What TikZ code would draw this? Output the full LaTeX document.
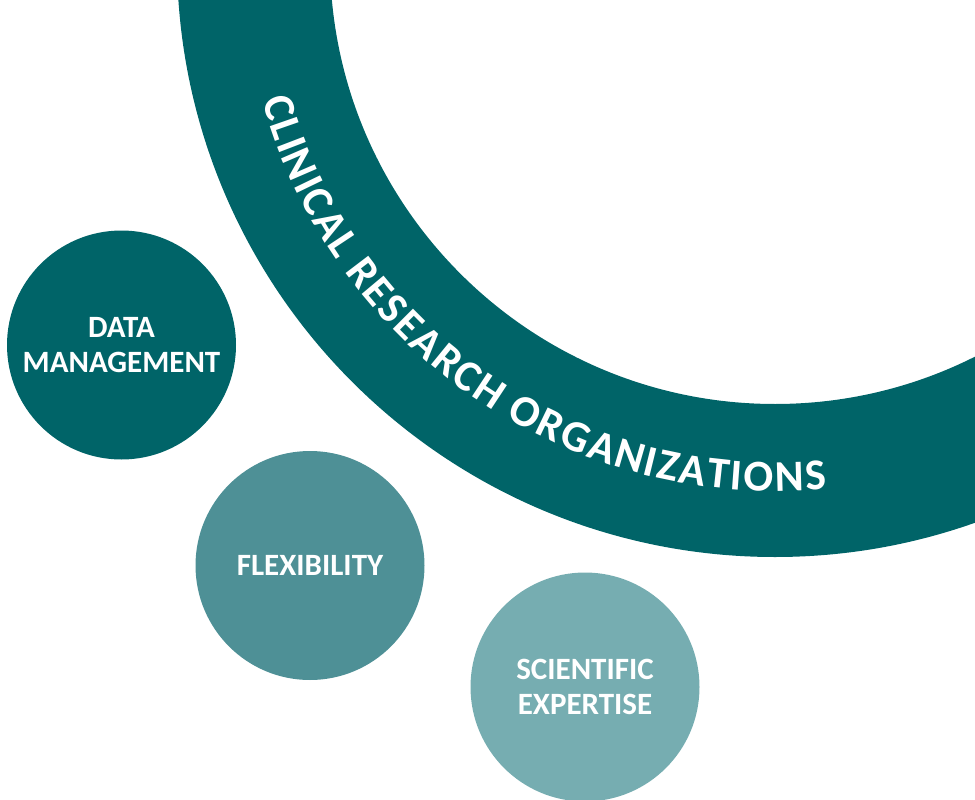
\documentclass[tikz,border=0pt]{standalone}
\usepackage{fontspec}
\setmainfont{Carlito}
\usepackage{tikz}
\usetikzlibrary{decorations.text}

\definecolor{crodark}{HTML}{006468}
\definecolor{flexmid}{HTML}{4E9096}
\definecolor{scilight}{HTML}{76ADB1}

\begin{document}
\begin{tikzpicture}[x=1pt,y=1pt,
    bubble/.style={circle,minimum size=229pt,inner sep=0pt,text=white,
        align=center,font=\bfseries\fontsize{31}{35}\selectfont}]

\useasboundingbox (0,0) rectangle (975,-800);
\clip (0,0) rectangle (975,-800);

\coordinate (c) at (775,41);

% ring
\fill[crodark,even odd rule] (c) circle (598) (c) circle (445);

\path[font=\bfseries\fontsize{44}{44}\selectfont,
    decorate,decoration={text effects along path,
    text={CLINICAL RESEARCH ORGANIZATIONS},text align=center,
    text effects/.cd,
      text along path,
      character widths={inner xsep=1pt},
      characters={inner sep=0pt,text=white}}]
    (c) ++(180:532) arc (180:291:532);

\node[bubble,fill=crodark] (data) at (121.5,-345) {DATA\\MANAGEMENT};
\node[bubble,fill=flexmid] (flex) at (310,-565.5) {FLEXIBILITY};
\node[bubble,fill=scilight] (sci) at (585,-687) {SCIENTIFIC\\EXPERTISE};

\end{tikzpicture}
\end{document}
